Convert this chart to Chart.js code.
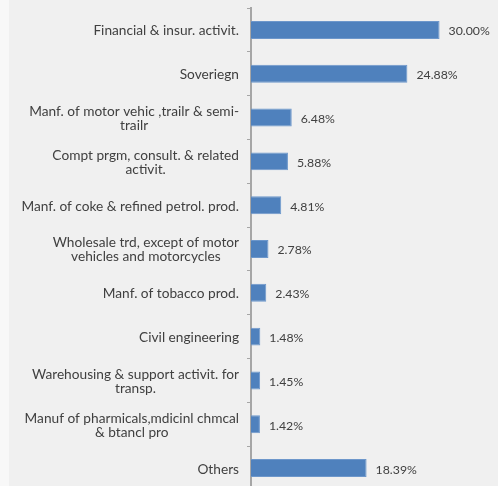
<!DOCTYPE html>
<html>
<head>
<meta charset="utf-8">
<script src="https://cdn.jsdelivr.net/npm/chart.js@4"></script>
<style>
  html, body { margin: 0; padding: 0; background: #f8f8f8; overflow: hidden; }
  #wrap { position: absolute; left: 9px; top: 0; width: 489px; height: 491px; background: #f0f0f0; }
</style>
</head>
<body>
<div id="wrap"><canvas id="sectorChart" width="489" height="491"></canvas></div>
<script>
const sectors = [
    'Financial & insur. activit.',
    'Soveriegn',
    ['Manf. of motor vehic ,trailr & semi-', 'trailr'],
    ['Compt prgm, consult. & related', 'activit.'],
    'Manf. of coke & refined petrol. prod.',
    ['Wholesale trd, except of motor', 'vehicles and motorcycles'],
    'Manf. of tobacco prod.',
    'Civil engineering',
    ['Warehousing & support activit. for', 'transp.'],
    ['Manuf of pharmicals,mdicinl chmcal', '& btancl pro'],
    'Others'
];

const shares = [30.00, 24.88, 6.48, 5.88, 4.81, 2.78, 2.43, 1.48, 1.45, 1.42, 18.39];

const labelFont = '13.7px Lato';
const valueFont = '12.3px Lato';
const textColor = '#404040';

// category names: wrapped lines centred on each other, block right-aligned to the axis
const categoryLabels = {
    id: 'categoryLabels',
    afterDraw(chart) {
        const ctx = chart.ctx;
        const scale = chart.scales.y;
        const right = chart.chartArea.left - 12;
        const lineGap = 14;
        ctx.save();
        ctx.font = labelFont;
        ctx.fillStyle = textColor;
        ctx.textAlign = 'center';
        ctx.textBaseline = 'middle';
        sectors.forEach((label, i) => {
            const lines = Array.isArray(label) ? label : [label];
            const widest = Math.max(...lines.map(l => ctx.measureText(l).width));
            const cx = right - widest / 2;
            const cy = scale.getPixelForTick(i);
            lines.forEach((line, j) => {
                ctx.fillText(line, cx, cy + 1 + (j - (lines.length - 1) / 2) * lineGap);
            });
        });
        ctx.restore();
    }
};

// writes the percentage just past the end of each bar
const valueLabels = {
    id: 'valueLabels',
    afterDatasetsDraw(chart) {
        const ctx = chart.ctx;
        const meta = chart.getDatasetMeta(0);
        ctx.save();
        ctx.font = valueFont;
        ctx.fillStyle = textColor;
        ctx.textAlign = 'left';
        ctx.textBaseline = 'middle';
        meta.data.forEach((bar, i) => {
            ctx.fillText(shares[i].toFixed(2) + '%', bar.x + 9, bar.y + 1.5);
        });
        ctx.restore();
    }
};

new Chart(document.getElementById('sectorChart'), {
    type: 'bar',
    data: {
        labels: sectors,
        datasets: [{
            data: shares,
            backgroundColor: '#4f81bd',
            borderColor: '#6d97cb',
            borderWidth: 1,
            barPercentage: 0.41,
            categoryPercentage: 1
        }]
    },
    options: {
        indexAxis: 'y',
        responsive: false,
        animation: false,
        layout: { padding: { top: 8, right: 27, bottom: 1, left: 0 } },
        plugins: {
            legend: { display: false },
            tooltip: { enabled: false }
        },
        scales: {
            x: { display: false, min: 0, max: 35 },
            y: {
                afterFit(scale) { scale.width = 242; },
                border: { display: true, color: '#a6a6a6', width: 2 },
                grid: {
                    drawOnChartArea: false,
                    drawTicks: true,
                    tickLength: 4,
                    color: '#a6a6a6',
                    offset: true
                },
                ticks: { display: false, autoSkip: false }
            }
        }
    },
    plugins: [categoryLabels, valueLabels]
});
</script>
</body>
</html>
